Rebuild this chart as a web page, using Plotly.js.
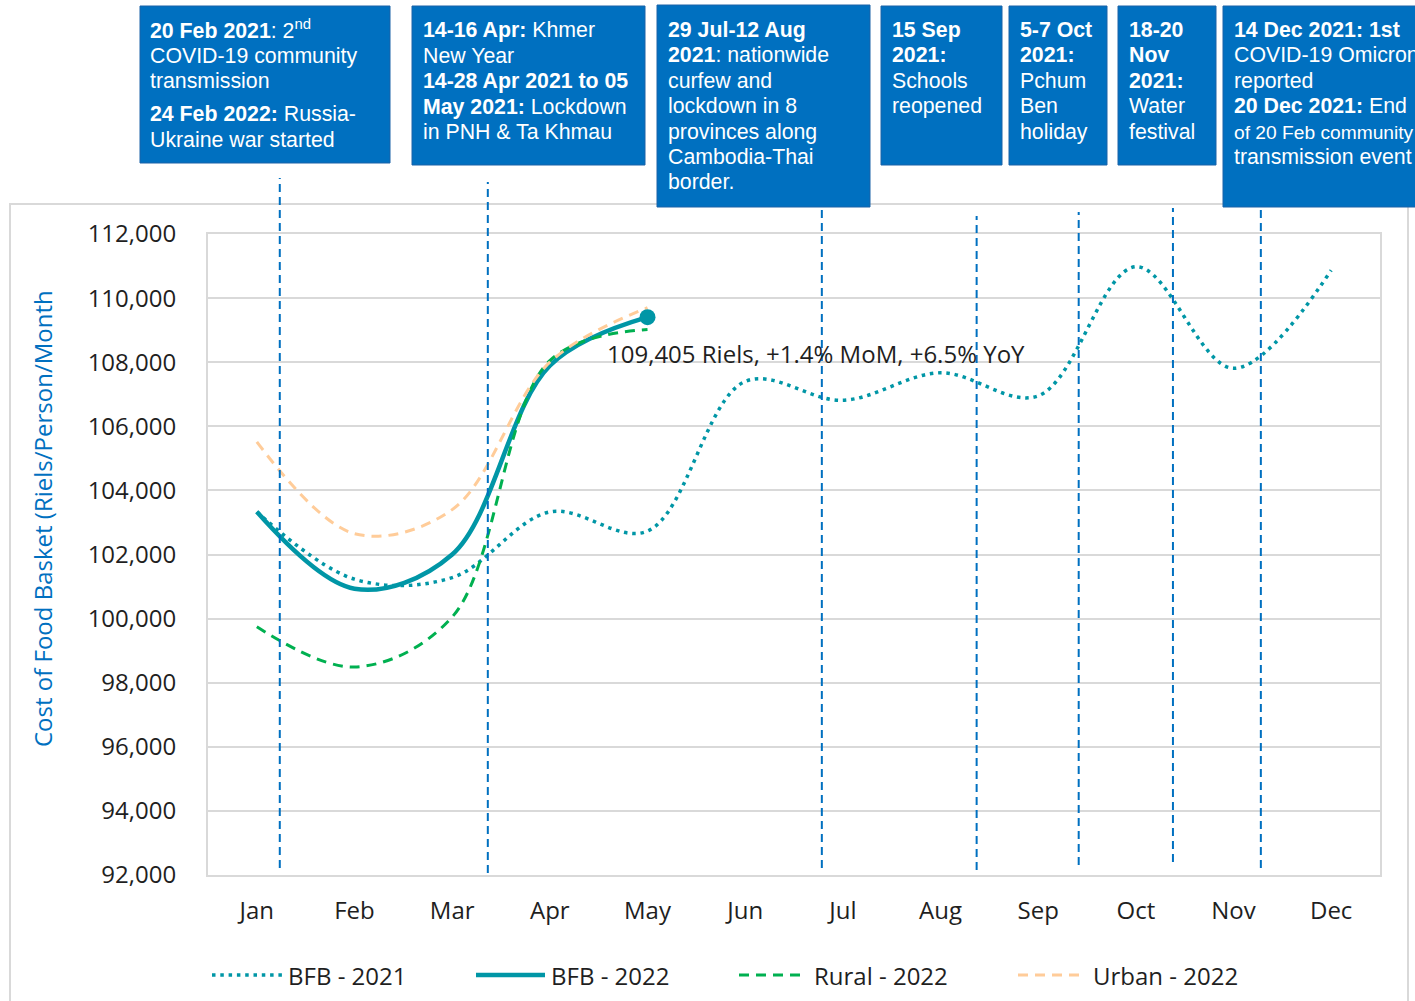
<!DOCTYPE html>
<html>
<head>
<meta charset="utf-8">
<script src="https://cdn.plot.ly/plotly-3.0.1.min.js"></script>
<style>
  html, body { margin: 0; padding: 0; background: #fff; }
  #chart { width: 1415px; height: 1001px; }
</style>
</head>
<body>
<div id="chart"></div>
<script>
// ---------------- DATA ----------------
const months = ['Jan', 'Feb', 'Mar', 'Apr', 'May', 'Jun', 'Jul', 'Aug', 'Sep', 'Oct', 'Nov', 'Dec'];
const bfb2021 = [103330, 101230, 101280, 103330, 102730, 107400, 106810, 107670, 106950, 110980, 107810, 110870];
const bfb2022 = [103330, 100930, 102000, 107894, 109405];
const rural2022 = [99745, 98490, 100050, 108050, 109020];
const urban2022 = [105515, 102650, 103400, 108000, 109700];
const seriesNames = ['BFB - 2021', 'BFB - 2022', 'Rural - 2022', 'Urban - 2022'];
const yTitle = 'Cost of Food Basket (Riels/Person/Month';

// event notes (text of each blue box, one entry per line)
const eventNotes = [
  ['<b>20 Feb 2021</b>: 2<sup>nd</sup>', 'COVID-19 community', 'transmission', '<b>24 Feb 2022:</b> Russia-', 'Ukraine war started'],
  ['<b>14-16 Apr:</b> Khmer', 'New Year', '<b>14-28 Apr 2021 to 05</b>', '<b>May 2021:</b> Lockdown', 'in PNH &amp; Ta Khmau'],
  ['<b>29 Jul-12 Aug</b>', '<b>2021</b>: nationwide', 'curfew and', 'lockdown in 8', 'provinces along', 'Cambodia-Thai', 'border.'],
  ['<b>15 Sep</b>', '<b>2021:</b>', 'Schools', 'reopened'],
  ['<b>5-7 Oct</b>', '<b>2021:</b>', 'Pchum', 'Ben', 'holiday'],
  ['<b>18-20</b>', '<b>Nov</b>', '<b>2021:</b>', 'Water', 'festival'],
  ['<b>14 Dec 2021: 1st</b>', 'COVID-19 Omicron', 'reported', '<b>20 Dec 2021:</b> End', 'of 20 Feb community', 'transmission event']
];

// ---------------- LAYOUT HELPERS ----------------
const W = 1415, H = 1001;
const L = 208, R = 1380, T = 234, B = 875;
const px2x = p => (p - L) / (R - L);
const py2y = p => (B - p) / (B - T);
const idx2x = v => (v + 0.5) / months.length;

const TEAL = '#0096A6';
const BLUE = '#0070C0';
const GRID = '#D9D9D9';
const TXT = '#1f1f1f';
const FONT = 'Open Sans, Noto Sans, sans-serif';
const BOXFONT = 'Liberation Sans, Arial, sans-serif';

const styles = [
  { color: TEAL, width: 3.5, dash: '3.5px,4.8px' },
  { color: TEAL, width: 4.5, dash: 'solid' },
  { color: '#00B050', width: 3, dash: '10px,7px' },
  { color: '#FFCC99', width: 3, dash: '10px,7px' }
];
const seriesData = [bfb2021, bfb2022, rural2022, urban2022];

const traces = seriesData.map((vals, i) => ({
  type: 'scatter',
  mode: 'lines',
  name: seriesNames[i],
  x: months.slice(0, vals.length),
  y: vals,
  line: { shape: 'spline', smoothing: 1, color: styles[i].color, width: styles[i].width, dash: styles[i].dash },
  hoverinfo: 'x+y+name'
}));
// end point marker for BFB 2022
const last = bfb2022.length - 1;
traces.push({
  type: 'scatter', mode: 'markers', showlegend: false,
  x: [months[last]], y: [bfb2022[last]],
  marker: { color: TEAL, size: 16 },
  hoverinfo: 'skip'
});

// ---------------- SHAPES ----------------
const shapes = [];
// outer chart border
shapes.push({ type: 'rect', xref: 'paper', yref: 'paper', x0: px2x(10), x1: px2x(1408), y0: py2y(1012), y1: py2y(204),
  line: { color: GRID, width: 2 }, fillcolor: 'rgba(0,0,0,0)', layer: 'below' });

// event lines (positions in month-index units) with their vertical extents (px)
const eventLines = [
  { m: 0.235, top: 178, bot: 868 },
  { m: 2.365, top: 182, bot: 873 },
  { m: 5.785, top: 207, bot: 868 },
  { m: 7.37, top: 216, bot: 870 },
  { m: 8.415, top: 212, bot: 865 },
  { m: 9.38, top: 208, bot: 862 },
  { m: 10.28, top: 207, bot: 868 }
];
eventLines.forEach(e => {
  shapes.push({ type: 'line', xref: 'paper', yref: 'paper', x0: idx2x(e.m), x1: idx2x(e.m), y0: py2y(e.bot), y1: py2y(e.top),
    line: { color: BLUE, width: 2, dash: '8px,5px' } });
});

// blue note boxes (px geometry) and line centres
const boxes = [
  { x0: 140, x1: 390, y0: 6, y1: 163, tx: 148, ly: [29, 56, 81, 114, 140] },
  { x0: 412, x1: 645, y0: 6, y1: 165, tx: 421, ly: [30, 56, 81, 107, 132] },
  { x0: 657, x1: 870, y0: 5, y1: 207, tx: 666, ly: [30, 55, 81, 106, 132, 157, 182] },
  { x0: 881, x1: 1002, y0: 6, y1: 165, tx: 890, ly: [30, 55, 81, 106] },
  { x0: 1009, x1: 1107, y0: 6, y1: 165, tx: 1018, ly: [30, 55, 81, 106, 132] },
  { x0: 1118, x1: 1216, y0: 6, y1: 165, tx: 1127, ly: [30, 55, 81, 106, 132] },
  { x0: 1223, x1: 1440, y0: 6, y1: 207, tx: 1232, ly: [30, 55, 81, 106, 132, 157] }
];
const annotations = [];
boxes.forEach((b, i) => {
  shapes.push({ type: 'rect', xref: 'paper', yref: 'paper', x0: px2x(b.x0), x1: px2x(b.x1), y0: py2y(b.y1), y1: py2y(b.y0),
    fillcolor: BLUE, line: { color: '#1a63a8', width: 1 } });
  eventNotes[i].forEach((txt, j) => {
    // the long last-box line is slightly condensed so it fits inside the page like the reference
    const size = (i === 6 && j === 4) ? 19.2 : 21.3;
    annotations.push({ xref: 'paper', yref: 'paper', x: px2x(b.tx), y: py2y(b.ly[j]), xanchor: 'left', yanchor: 'middle',
      text: txt, showarrow: false, font: { family: BOXFONT, size: size, color: '#ffffff' } });
  });
});

// data label for latest value
const mom = ((bfb2022[last] / bfb2022[last - 1] - 1) * 100).toFixed(1);
const yoy = ((bfb2022[last] / bfb2021[last] - 1) * 100).toFixed(1);
annotations.push({
  x: months[last], y: bfb2022[last], xref: 'x', yref: 'y', xanchor: 'left', yanchor: 'middle',
  xshift: -43, yshift: -36, showarrow: false,
  text: bfb2022[last].toLocaleString('en-US') + ' Riels, +' + mom + '% MoM, +' + yoy + '% YoY',
  font: { family: FONT, size: 24, color: TXT }
});

// y axis title
annotations.push({ xref: 'paper', yref: 'paper', x: px2x(42), y: py2y(519), xanchor: 'center', yanchor: 'middle',
  text: yTitle, textangle: -90, showarrow: false, font: { family: FONT, size: 24, color: BLUE } });

// custom legend
const legendItems = [
  { s: 212, e: 282, t: 286 },
  { s: 476, e: 545, t: 549 },
  { s: 739, e: 806, t: 812 },
  { s: 1018, e: 1085, t: 1091 }
];
legendItems.forEach((li, i) => {
  shapes.push({ type: 'line', xref: 'paper', yref: 'paper', x0: px2x(li.s), x1: px2x(li.e), y0: py2y(975), y1: py2y(975),
    line: { color: styles[i].color, width: styles[i].width, dash: styles[i].dash } });
  annotations.push({ xref: 'paper', yref: 'paper', x: px2x(li.t), y: py2y(975), xanchor: 'left', yanchor: 'middle',
    text: seriesNames[i], showarrow: false, font: { family: FONT, size: 24, color: TXT } });
});

const layout = {
  width: W, height: H,
  margin: { l: L, r: W - R, t: T, b: H - B, pad: 0 },
  paper_bgcolor: '#ffffff', plot_bgcolor: '#ffffff',
  showlegend: false,
  font: { family: FONT, color: TXT },
  xaxis: {
    type: 'category', categoryorder: 'array', categoryarray: months,
    range: [-0.5, months.length - 0.5],
    showgrid: false, zeroline: false,
    showline: true, mirror: true, linecolor: GRID, linewidth: 2,
    ticks: '', ticklabelstandoff: 13,
    tickfont: { family: FONT, size: 24, color: TXT }
  },
  yaxis: {
    range: [92000, 112000], dtick: 2000, tick0: 92000, tickformat: ',d',
    showgrid: true, gridcolor: GRID, gridwidth: 2, zeroline: false,
    showline: true, mirror: true, linecolor: GRID, linewidth: 2,
    ticks: '', ticklabelstandoff: 25,
    tickfont: { family: FONT, size: 24, color: TXT }
  },
  shapes: shapes,
  annotations: annotations
};

Plotly.newPlot('chart', traces, layout, { displayModeBar: false, staticPlot: true });
</script>
</body>
</html>
